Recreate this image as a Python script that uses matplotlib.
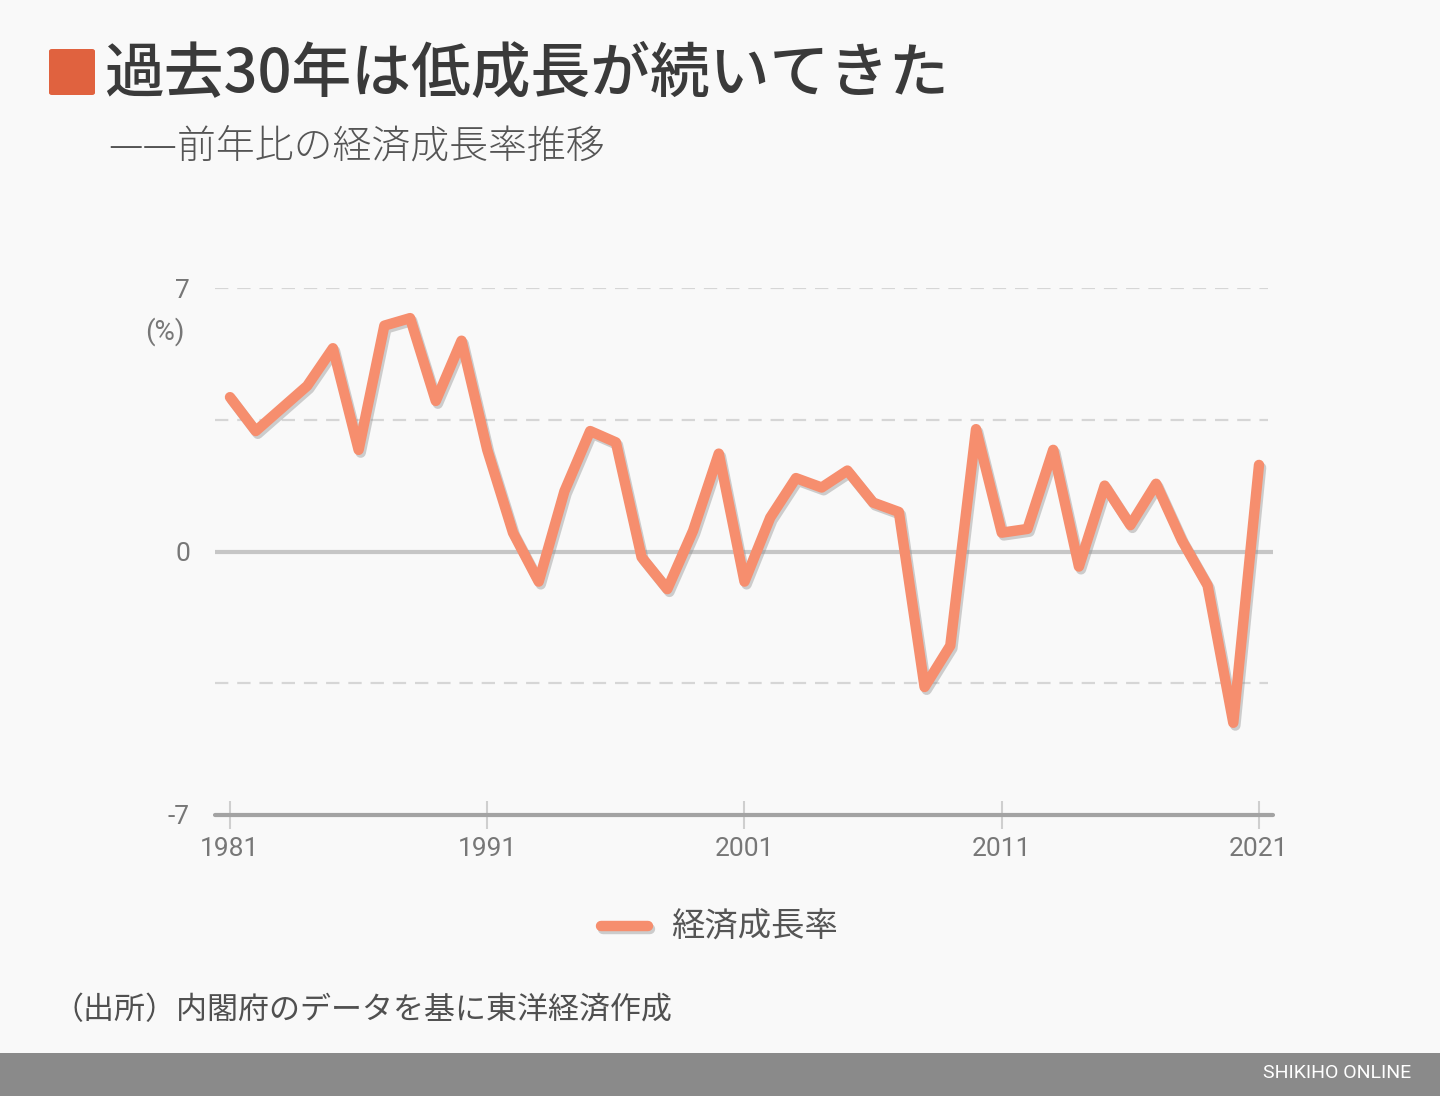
import matplotlib
matplotlib.use("Agg")
import matplotlib.pyplot as plt
import matplotlib.patheffects as pe
from matplotlib.patches import FancyBboxPatch, Rectangle

plt.rcParams['font.family'] = ['Noto Sans CJK JP', 'DejaVu Sans']

years = list(range(1981, 2022))
growth = [4.1, 3.2, 3.8, 4.4, 5.4, 2.7, 6.0, 6.2, 4.0, 5.6,
          2.7, 0.5, -0.8, 1.6, 3.2, 2.9, -0.15, -1.0, 0.55, 2.6,
          -0.8, 0.9, 1.95, 1.7, 2.15, 1.3, 1.05, -3.6, -2.5, 3.25,
          0.5, 0.6, 2.7, -0.4, 1.75, 0.7, 1.8, 0.3, -0.9, -4.55, 2.3]
ytick_vals = [-7, 0, 7]
ytick_labels = ['-7', '0', '7']
xtick_vals = [1981, 1991, 2001, 2011, 2021]
xtick_labels = ['1981', '1991', '2001', '2011', '2021']

title = '過去30年は低成長が続いてきた'
subtitle = '——前年比の経済成長率推移'
series_name = '経済成長率'
source = '（出所）内閣府のデータを基に東洋経済作成'
brand = 'SHIKIHO ONLINE'

W, H = 1440, 1096
bg = '#f9f9f9'
line_color = '#f68e6e'
fig = plt.figure(figsize=(W / 100, H / 100), dpi=100, facecolor=bg)

def fx(px):
    return px / W

def fy(py):
    return 1 - py / H

# axes: x pixels 215..1273, y pixels 288..815
ax_l, ax_r, ax_t, ax_b = 215, 1273, 288, 815
ax = fig.add_axes([fx(ax_l), fy(ax_b), fx(ax_r - ax_l), (ax_b - ax_t) / H])
ax.set_facecolor(bg)
px_per_year = (1259 - 230) / 40
x0 = 1981 - (230 - ax_l) / px_per_year
x1 = 2021 + (ax_r - 1259) / px_per_year
ax.set_xlim(x0, x1)
ax.set_ylim(-7, 7)

for s in ['top', 'right', 'left']:
    ax.spines[s].set_visible(False)
ax.spines['bottom'].set_color('#a3a3a3')
ax.spines['bottom'].set_linewidth(3)
ax.spines['bottom'].set_capstyle('round')

# gridlines
xg1 = 2021 + (1268 - 1259) / px_per_year
for v in [7, 3.5, -3.5]:
    ax.hlines(v, x0, xg1, colors='#d6d6d6', linewidth=1.6,
              linestyles=(0, (6, 4)), zorder=1)
ax.axhline(0, color='#c6c6c6', linewidth=3, zorder=1, solid_capstyle='round')

ax.plot(years, growth, color=line_color, linewidth=7.5, solid_joinstyle='round',
        solid_capstyle='round', zorder=3, clip_on=False,
        path_effects=[pe.SimpleLineShadow(offset=(1.5, -2), shadow_color='#8a8a8a', alpha=0.4),
                      pe.Normal()])

ax.set_yticks(ytick_vals)
ax.set_yticklabels(ytick_labels, fontfamily='Roboto', fontsize=19, color='#777777')
ax.tick_params(axis='y', length=0, pad=18)
ax.set_xticks(xtick_vals)
ax.set_xticklabels(xtick_labels, fontfamily='Roboto', fontsize=19, color='#777777')
ax.tick_params(axis='x', direction='inout', length=20, width=1.5, color='#cfcfcf', pad=6)

fig.text(fx(165), fy(332), '(%)', fontfamily='Roboto', fontsize=20, color='#777777',
         ha='center', va='center')

# title
fig.patches.append(FancyBboxPatch((fx(49), fy(95)), fx(46), 46 / H,
                                  boxstyle='round,pad=0,rounding_size=0.002',
                                  transform=fig.transFigure, facecolor='#e0623f',
                                  edgecolor='none'))
fig.text(fx(104), fy(75), title, fontsize=43, fontweight='medium', color='#3a3a3a',
         ha='left', va='center')
fig.text(fx(108), fy(148), subtitle, fontsize=28, fontweight='light', color='#555555',
         ha='left', va='center')

# legend
fig.lines.append(plt.Line2D([fx(601), fx(648)], [fy(926), fy(926)], transform=fig.transFigure,
                            color=line_color, linewidth=7.5, solid_capstyle='round',
                            path_effects=[pe.SimpleLineShadow(offset=(1.5, -2), shadow_color='#8a8a8a', alpha=0.4),
                                          pe.Normal()]))
fig.text(fx(671), fy(927), series_name, fontsize=24, color='#555555', ha='left', va='center')

# source
fig.text(fx(52), fy(1011), source, fontsize=22.3, color='#505050', ha='left', va='center')

# footer
fig.patches.append(Rectangle((0, 0), 1, (H - 1053) / H, transform=fig.transFigure,
                             facecolor='#8a8a8a', edgecolor='none'))
fig.text(fx(1411), fy(1073), brand, fontfamily='Roboto', fontsize=14, color='white',
         ha='right', va='center')

fig.savefig('out.png', dpi=100, facecolor=bg)
